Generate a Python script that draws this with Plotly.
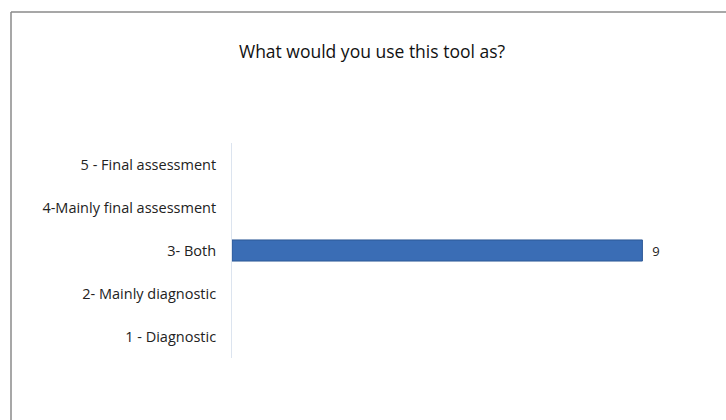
import plotly.graph_objects as go

# Survey responses: "What would you use this tool as?"
categories = [
    "1 - Diagnostic",
    "2- Mainly diagnostic",
    "3- Both",
    "4-Mainly final assessment",
    "5 - Final assessment",
]
counts = [0, 0, 9, 0, 0]
labels = ["" if v == 0 else "  " + str(v) for v in counts]

W, H = 726, 420
ml, mr, mt, mb = 232, 38, 143, 62
pw, ph = W - ml - mr, H - mt - mb

def px_x(x):
    return (x - ml) / pw

def px_y(y):
    return 1 - (y - mt) / ph

font_family = "Open Sans, Arial, sans-serif"

fig = go.Figure(
    go.Bar(
        x=counts,
        y=categories,
        orientation="h",
        width=0.49,
        marker=dict(color="#3a6db5", line=dict(width=0)),
        text=labels,
        textposition="outside",
        textfont=dict(size=13, color="#222222", family=font_family),
        cliponaxis=False,
    )
)

# thin darker rim along the bottom of the bar for a bevelled look
fig.add_trace(
    go.Bar(
        x=counts,
        y=categories,
        orientation="h",
        width=0.49,
        marker=dict(color="rgba(0,0,0,0)", line=dict(color="#2c5896", width=1)),
        hoverinfo="skip",
        visible=True,
    )
)
fig.data[1].marker.line.width = [0 if v == 0 else 1 for v in counts]

fig.update_layout(
    width=W,
    height=H,
    margin=dict(l=ml, r=mr, t=mt, b=mb),
    paper_bgcolor="white",
    plot_bgcolor="white",
    showlegend=False,
    barmode="overlay",
    title=dict(
        text="What would you use this tool as?",
        x=px_x(372),
        xref="paper",
        xanchor="center",
        y=1 - 52 / H,
        yref="container",
        yanchor="middle",
        font=dict(size=17.5, color="#111111", family=font_family),
    ),
    xaxis=dict(
        range=[0, 10],
        visible=False,
        showgrid=False,
        zeroline=False,
    ),
    yaxis=dict(
        categoryorder="array",
        categoryarray=categories,
        showline=True,
        linecolor="#dce4ef",
        linewidth=1,
        showgrid=False,
        ticks="",
        ticklabelstandoff=12,
        tickfont=dict(size=14.5, color="#222222", family=font_family),
    ),
    shapes=[
        dict(type="line", xref="paper", yref="paper",
             x0=px_x(11), x1=px_x(W + 5), y0=px_y(12), y1=px_y(12),
             line=dict(color="#8a8a8a", width=1.5)),
        dict(type="line", xref="paper", yref="paper",
             x0=px_x(11), x1=px_x(11), y0=px_y(12), y1=px_y(H + 5),
             line=dict(color="#8a8a8a", width=1.5)),
    ],
)

fig.write_html("out.html")
